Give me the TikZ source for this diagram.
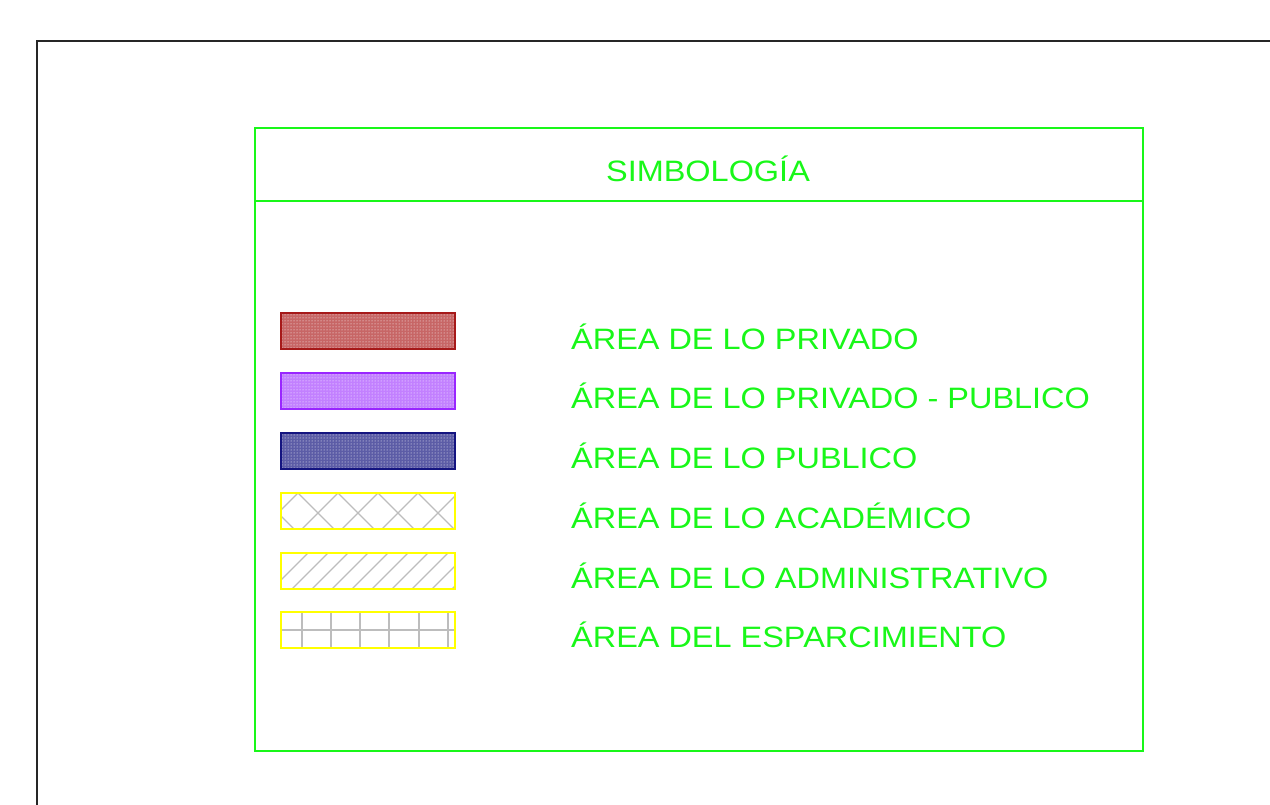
\documentclass[tikz,border=0pt]{standalone}
\usepackage{fontspec}
\setmainfont{Liberation Sans}
\usetikzlibrary{patterns}
\definecolor{lgreen}{rgb}{0.1,0.97,0.1}
\definecolor{bred}{rgb}{0.65,0.1,0.1}
\definecolor{fred}{rgb}{0.78,0.4,0.4}
\definecolor{bpur}{rgb}{0.6,0.15,1}
\definecolor{fpur}{rgb}{0.76,0.5,1}
\definecolor{bblu}{rgb}{0.08,0.08,0.5}
\definecolor{fblu}{rgb}{0.36,0.36,0.65}
\definecolor{hgray}{rgb}{0.74,0.74,0.74}
\definecolor{yel}{rgb}{1,1,0}
\tikzset{
  swatch/.style={minimum width=174pt,minimum height=36pt,inner sep=0pt},
  lbl/.style={anchor=base west,inner sep=0pt,text=lgreen,font=\fontsize{29.5}{35}\selectfont},
  hatch/.style={draw=hgray,line width=1.3pt},
  edge/.style={line width=1.7pt},
}
\newcommand{\wide}[1]{\scalebox{1.1}[1]{#1}}
\begin{document}
\begin{tikzpicture}[x=1pt,y=-1pt]
\useasboundingbox (0,0) rectangle (1270,804);
% outer frame
\draw[line width=1.6pt,black!85] (37,810) -- (37,41) -- (1275,41);
% legend box
\node[draw=lgreen,line width=1.5pt,minimum width=888pt,minimum height=623pt,inner sep=0pt,anchor=north west] (box) at (254,127) {};
\coordinate (hl) at (254,201);
\coordinate (hr) at (1142,201);
\draw[lgreen,line width=1.5pt] (hl) -- (hr);
\node[anchor=base,inner sep=0pt,text=lgreen,font=\fontsize{29.5}{35}\selectfont] (title) at (708,181) {\wide{SIMBOLOGÍA}};
% swatches with dots
\node[swatch,fill=fred] (s1) at (368,331) {};
\fill[pattern=dots,pattern color=white] (s1.south west) rectangle (s1.north east);
\draw[bred,edge] (s1.south west) rectangle (s1.north east);
\node[swatch,fill=fpur] (s2) at (368,391) {};
\fill[pattern=dots,pattern color=white] (s2.south west) rectangle (s2.north east);
\draw[bpur,edge] (s2.south west) rectangle (s2.north east);
\node[swatch,fill=fblu] (s3) at (368,451) {};
\fill[pattern=dots,pattern color=white] (s3.south west) rectangle (s3.north east);
\draw[bblu,edge] (s3.south west) rectangle (s3.north east);
% crosshatch
\node[swatch] (s4) at (368,511) {};
\begin{scope}
\clip (s4.south west) rectangle (s4.north east);
\foreach \k in {-2,...,5}{
  \draw[hatch] (258+40*\k,493) -- ++(40,40);
  \draw[hatch] (258+40*\k+40,493) -- ++(-40,40);
}
\end{scope}
\draw[yel,edge] (s4.south west) rectangle (s4.north east);
% diagonal
\node[swatch] (s5) at (368,571) {};
\begin{scope}
\clip (s5.south west) rectangle (s5.north east);
\foreach \k in {0,...,10}{
  \draw[hatch] (272+20*\k,589) -- ++(40,-40);
}
\end{scope}
\draw[yel,edge] (s5.south west) rectangle (s5.north east);
% grid
\node[swatch] (s6) at (368,630) {};
\begin{scope}
\clip (s6.south west) rectangle (s6.north east);
\foreach \x in {302,331,360,389,419,448}{
  \draw[hatch] (\x,612) -- (\x,648);
}
\draw[hatch] (281,630) -- (455,630);
\end{scope}
\draw[yel,edge] (s6.south west) rectangle (s6.north east);
% labels
\node[lbl] (l1) at (571,349) {\wide{ÁREA DE LO PRIVADO}};
\node[lbl] (l2) at (571,408.5) {\wide{ÁREA DE LO PRIVADO - PUBLICO}};
\node[lbl] (l3) at (571,468) {\wide{ÁREA DE LO PUBLICO}};
\node[lbl] (l4) at (571,528) {\wide{ÁREA DE LO ACADÉMICO}};
\node[lbl] (l5) at (571,588) {\wide{ÁREA DE LO ADMINISTRATIVO}};
\node[lbl] (l6) at (571,647) {\wide{ÁREA DEL ESPARCIMIENTO}};
\end{tikzpicture}
\end{document}
